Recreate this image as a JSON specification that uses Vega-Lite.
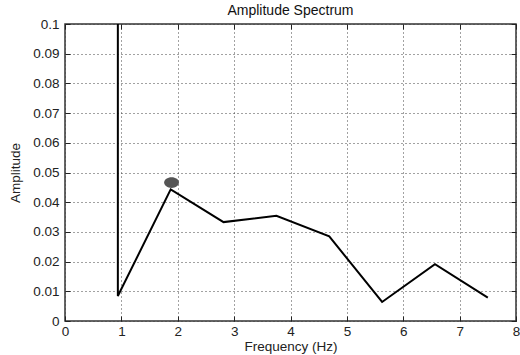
{
  "$schema": "https://vega.github.io/schema/vega-lite/v6.json",
  "width": 451,
  "height": 297,
  "autosize": "none",
  "padding": {"left": 65, "top": 24, "right": 4, "bottom": 34},
  "background": "white",
  "title": {"text": "Amplitude Spectrum", "font": "Liberation Sans", "fontSize": 14, "fontWeight": "normal", "color": "#111", "offset": -1},
  "config": {
    "view": {"stroke": "#333", "strokeWidth": 1.5},
    "axis": {
      "labelFont": "Liberation Sans", "labelFontSize": 13.5, "labelColor": "#222", "labelFlush": false, "labelOverlap": false,
      "titleFont": "Liberation Sans", "titleFontSize": 13.5, "titleFontWeight": "normal", "titleColor": "#222",
      "domain": false, "tickColor": "#222", "tickSize": -5, "tickWidth": 1,
      "grid": true, "gridColor": "#444", "gridDash": [1, 3], "gridWidth": 1, "gridOpacity": 1
    }
  },
  "data": {"values": [
    {"f": 0.9375, "a": 0.3, "o": 0},
    {"f": 0.9375, "a": 0.0084, "o": 1},
    {"f": 1.875, "a": 0.0443, "o": 2},
    {"f": 2.8125, "a": 0.0333, "o": 3},
    {"f": 3.75, "a": 0.0354, "o": 4},
    {"f": 4.6875, "a": 0.0285, "o": 5},
    {"f": 5.625, "a": 0.0064, "o": 6},
    {"f": 6.5625, "a": 0.0191, "o": 7},
    {"f": 7.5, "a": 0.0079, "o": 8}
  ]},
  "layer": [
    {
      "mark": {"type": "line", "color": "black", "strokeWidth": 2, "clip": true},
      "encoding": {
        "x": {"field": "f", "type": "quantitative", "scale": {"domain": [0, 8], "nice": false}, "axis": {"title": "Frequency (Hz)", "tickCount": 8, "labelPadding": 8, "titlePadding": 2, "format": "d"}},
        "y": {"field": "a", "type": "quantitative", "scale": {"domain": [0, 0.1], "nice": false}, "axis": {"title": "Amplitude", "tickCount": 10, "titlePadding": 10, "labelPadding": 11, "format": "~g"}},
        "order": {"field": "o"}
      }
    },
    {
      "data": {"values": [{"f": 1.89, "a": 0.0466}]},
      "mark": {"type": "point", "filled": true, "color": "#555", "opacity": 1, "shape": "M-1,0A1,0.72 0 1,1 1,0A1,0.72 0 1,1 -1,0Z", "size": 220},
      "encoding": {
        "x": {"field": "f", "type": "quantitative", "axis": {"orient": "top", "labels": false, "title": null, "grid": false, "tickCount": 8}},
        "y": {"field": "a", "type": "quantitative", "axis": {"orient": "right", "labels": false, "title": null, "grid": false, "tickCount": 10}}
      }
    }
  ],
  "resolve": {"axis": {"x": "independent", "y": "independent"}}
}
